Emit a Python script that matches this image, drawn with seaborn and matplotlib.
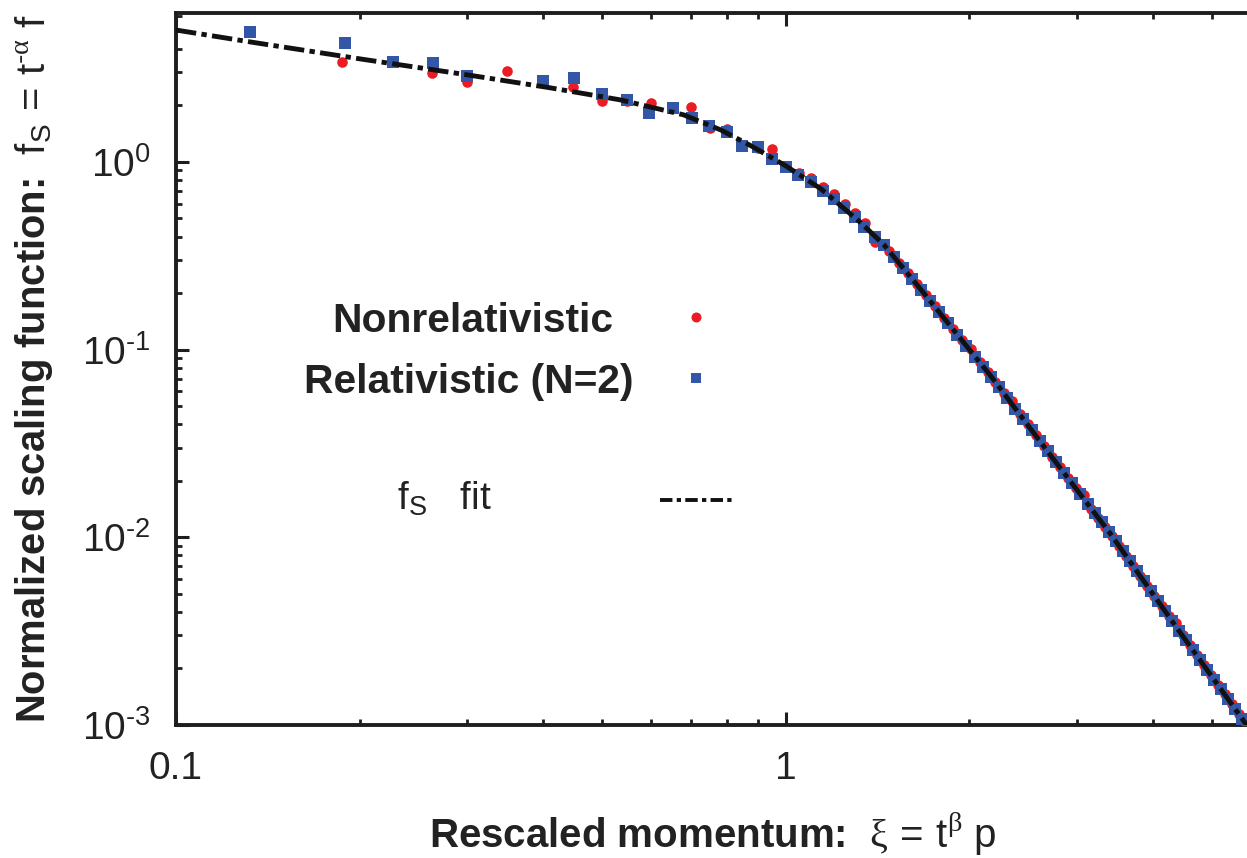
import numpy as np
import pandas as pd
import matplotlib
matplotlib.use("Agg")
import matplotlib.pyplot as plt
import seaborn as sns
from matplotlib.ticker import LogLocator, NullFormatter

# Nonrelativistic scaling function
xi_nonrel = [0.187, 0.263, 0.300, 0.349, 0.448, 0.500, 0.550, 0.600, 0.650, 0.700,
             0.750, 0.800, 0.850, 0.900, 0.950, 1.000, 1.050, 1.100, 1.150, 1.200,
             1.250, 1.300, 1.350, 1.400,
             1.477, 1.531, 1.584, 1.639, 1.696, 1.755, 1.816, 1.879, 1.944, 2.012,
             2.078, 2.142, 2.207, 2.275, 2.345, 2.417, 2.491, 2.568, 2.647, 2.728,
             2.812, 2.899, 2.988, 3.080, 3.169, 3.254, 3.341, 3.431, 3.523, 3.617,
             3.715, 3.815, 3.917, 4.023, 4.131, 4.242, 4.356, 4.473, 4.593, 4.716,
             4.843, 4.973, 5.106, 5.244, 5.384, 5.529, 5.680]
fs_nonrel = [3.41, 2.98, 2.67, 3.05, 2.51, 2.11, 2.12, 2.06, 1.93, 1.96,
             1.52, 1.50, 1.23, 1.18, 1.17, 0.95, 0.874, 0.822, 0.736, 0.676,
             0.597, 0.535, 0.473, 0.375,
             0.336, 0.291, 0.2547, 0.2228, 0.1947, 0.1698, 0.1481, 0.1291, 0.1126, 0.1005,
             0.0862, 0.0763, 0.0672, 0.0590, 0.0535, 0.0454, 0.0399, 0.0350, 0.0307, 0.0269,
             0.0236, 0.0208, 0.0183, 0.0167, 0.0142, 0.0127, 0.0114, 0.0101, 0.00896, 0.00793,
             0.00702, 0.00622, 0.00550, 0.00487, 0.00431, 0.00382, 0.00348, 0.00300, 0.00266, 0.00236,
             0.00209, 0.00185, 0.00164, 0.00146, 0.00129, 0.00115, 0.00098]

# Relativistic (N=2) scaling function
xi_rel = [0.132, 0.189, 0.227, 0.264, 0.300, 0.400, 0.450, 0.500, 0.550, 0.597,
          0.652, 0.703, 0.747, 0.800, 0.849, 0.900, 0.948, 1.000, 1.046, 1.099,
          1.150, 1.199, 1.245, 1.299, 1.343, 1.400,
          1.449, 1.505, 1.557, 1.611, 1.667, 1.725, 1.785, 1.847, 1.911, 1.977,
          2.046, 2.109, 2.174, 2.240, 2.309, 2.380, 2.453, 2.529, 2.607, 2.687,
          2.769, 2.855, 2.943, 3.033, 3.127, 3.211, 3.297, 3.385, 3.476, 3.569,
          3.665, 3.764, 3.865, 3.969, 4.076, 4.185, 4.299, 4.413, 4.532, 4.654,
          4.778, 4.907, 5.038, 5.174, 5.313, 5.455, 5.603]
fs_rel = [4.93, 4.31, 3.41, 3.37, 2.87, 2.70, 2.80, 2.30, 2.14, 1.82,
          1.94, 1.71, 1.55, 1.44, 1.22, 1.20, 1.04, 0.94, 0.853, 0.782,
          0.700, 0.635, 0.569, 0.509, 0.451, 0.398,
          0.3612, 0.311, 0.2718, 0.2375, 0.2080, 0.1813, 0.1582, 0.1379, 0.1203, 0.1049,
          0.09145, 0.08098, 0.07154, 0.06282, 0.05509, 0.04837, 0.04247, 0.03725, 0.03271, 0.02868,
          0.02515, 0.02212, 0.01944, 0.01709, 0.01503, 0.01344, 0.01201, 0.01073, 0.009511, 0.008412,
          0.007449, 0.006598, 0.005835, 0.005169, 0.004572, 0.004049, 0.003582, 0.003180, 0.002820, 0.002500,
          0.002217, 0.001966, 0.001743, 0.001546, 0.001371, 0.001214, 0.001078]

# Fitted scaling function f_S
xi_fit = [0.100, 0.132, 0.200, 0.300, 0.411, 0.535, 0.680, 0.782, 0.876, 1.000,
          1.142, 1.328, 1.449, 1.667, 2.174, 2.729, 3.398, 4.378, 5.819]
fs_fit = [5.04, 4.36, 3.54, 2.91, 2.48, 2.14, 1.78, 1.48, 1.22, 0.952,
          0.718, 0.473, 0.361, 0.208, 0.0715, 0.02682, 0.01055, 0.00329, 0.000908]

x_ticks = [0.1, 1]
x_ticklabels = ["0.1", "1"]
y_ticks = [1e-3, 1e-2, 1e-1, 1]
y_ticklabels = [r"$\mathregular{10^{\text{-}3}}$", r"$\mathregular{10^{\text{-}2}}$",
                r"$\mathregular{10^{\text{-}1}}$", r"$\mathregular{10^{0}}$"]

RED = "#ec1c24"
BLUE = "#3456a6"
INK = "#1e1e1e"

sns.set_theme(style="ticks")
plt.rcParams["font.family"] = ["Liberation Sans", "DejaVu Sans"]
plt.rcParams["mathtext.fontset"] = "custom"
plt.rcParams["mathtext.rm"] = "Liberation Sans"
plt.rcParams["mathtext.it"] = "Liberation Sans:italic"
plt.rcParams["mathtext.bf"] = "Liberation Sans:bold"
plt.rcParams["mathtext.sf"] = "Liberation Sans"
plt.rcParams["mathtext.cal"] = "Liberation Serif"

W, H = 1247, 858
fig = plt.figure(figsize=(W / 100, H / 100), dpi=100)
ax_l, ax_r, ax_t, ax_b = 176, 1250, 13, 725
ax = fig.add_axes([ax_l / W, 1 - ax_b / H, (ax_r - ax_l) / W, (ax_b - ax_t) / H])
ax.set_xscale("log")
ax.set_yscale("log")

nonrel = pd.DataFrame({"xi": xi_nonrel, "fs": fs_nonrel})
rel = pd.DataFrame({"xi": xi_rel, "fs": fs_rel})
fit = pd.DataFrame({"xi": xi_fit, "fs": fs_fit})

sns.scatterplot(data=nonrel, x="xi", y="fs", ax=ax, color=RED, marker="o",
                s=58, linewidth=0, zorder=3)
sns.scatterplot(data=rel, x="xi", y="fs", ax=ax, color=BLUE, marker="s",
                s=66, linewidth=0, zorder=4)
sns.lineplot(data=fit, x="xi", y="fs", ax=ax, color="#111111", lw=3.5,
             sort=False, estimator=None, zorder=5)
fit_line = ax.lines[-1]
fit_line.set_dashes([4.2, 1.1, 1.1, 1.1])
fit_line.set_dash_capstyle("butt")

ax.set_xlim(0.1, 5.77)
ax.set_ylim(1e-3, 6.21)
ax.set_xticks(x_ticks, labels=x_ticklabels)
ax.set_yticks(y_ticks, labels=y_ticklabels)
for axis in (ax.xaxis, ax.yaxis):
    axis.set_minor_locator(LogLocator(base=10, subs=np.arange(2, 10)))
    axis.set_minor_formatter(NullFormatter())

ax.tick_params(which="both", direction="in", top=True, right=False,
               color=INK, labelcolor="#222222", labelsize=28)
ax.tick_params(which="major", length=9.5, width=2.2)
ax.tick_params(which="minor", length=4.5, width=2.0)
ax.tick_params(axis="x", which="major", pad=19)
ax.tick_params(axis="y", which="major", pad=18.5)
for sp in ax.spines.values():
    sp.set_linewidth(2.8)
    sp.set_color(INK)

ax.set_xlabel(r"Rescaled momentum:  $\mathcal{\xi}\,\mathrm{=}\,\mathrm{t}^{\mathcal{\beta}}\ \mathrm{p}$",
              fontsize=29, fontweight="bold", color="#222222")
ax.set_ylabel(r"Normalized scaling function:  $\mathrm{f}_{\mathrm{S}}\,\mathrm{=}\,\mathrm{t}^{\text{-}\mathcal{\alpha}}\ \mathrm{f}$",
              fontsize=28.8, fontweight="bold", color="#222222")
ax.xaxis.set_label_coords(0.5, -0.12)
ax.yaxis.set_label_coords(-0.113, 0.5)


def fx(px):
    return (px - ax_l) / (ax_r - ax_l)


def fy(py):
    return 1 - (py - ax_t) / (ax_b - ax_t)


# key
ax.text(fx(613), fy(332), "Nonrelativistic", transform=ax.transAxes, ha="right",
        va="baseline", fontsize=29.3, fontweight="bold", color="#222222")
ax.text(fx(634), fy(393), "Relativistic (N=2)", transform=ax.transAxes, ha="right",
        va="baseline", fontsize=29.3, fontweight="bold", color="#222222")
ax.text(fx(397), fy(510), r"$\mathrm{f}_{\mathrm{S}}$   fit", transform=ax.transAxes,
        ha="left", va="baseline", fontsize=28, color="#222222")
ax.plot([fx(696)], [fy(317)], transform=ax.transAxes, marker="o", ms=7.2,
        color=RED, mew=0, ls="none", clip_on=False)
ax.plot([fx(696)], [fy(378)], transform=ax.transAxes, marker="s", ms=7.0,
        color=BLUE, mew=0, ls="none", clip_on=False)
key_line, = ax.plot([fx(660), fx(733)], [fy(500), fy(500)], transform=ax.transAxes,
                    color="#111111", lw=2.8, clip_on=False)
key_line.set_dashes([3.2, 1.1, 1.1, 1.1])

fig.savefig("out.png", dpi=100)
